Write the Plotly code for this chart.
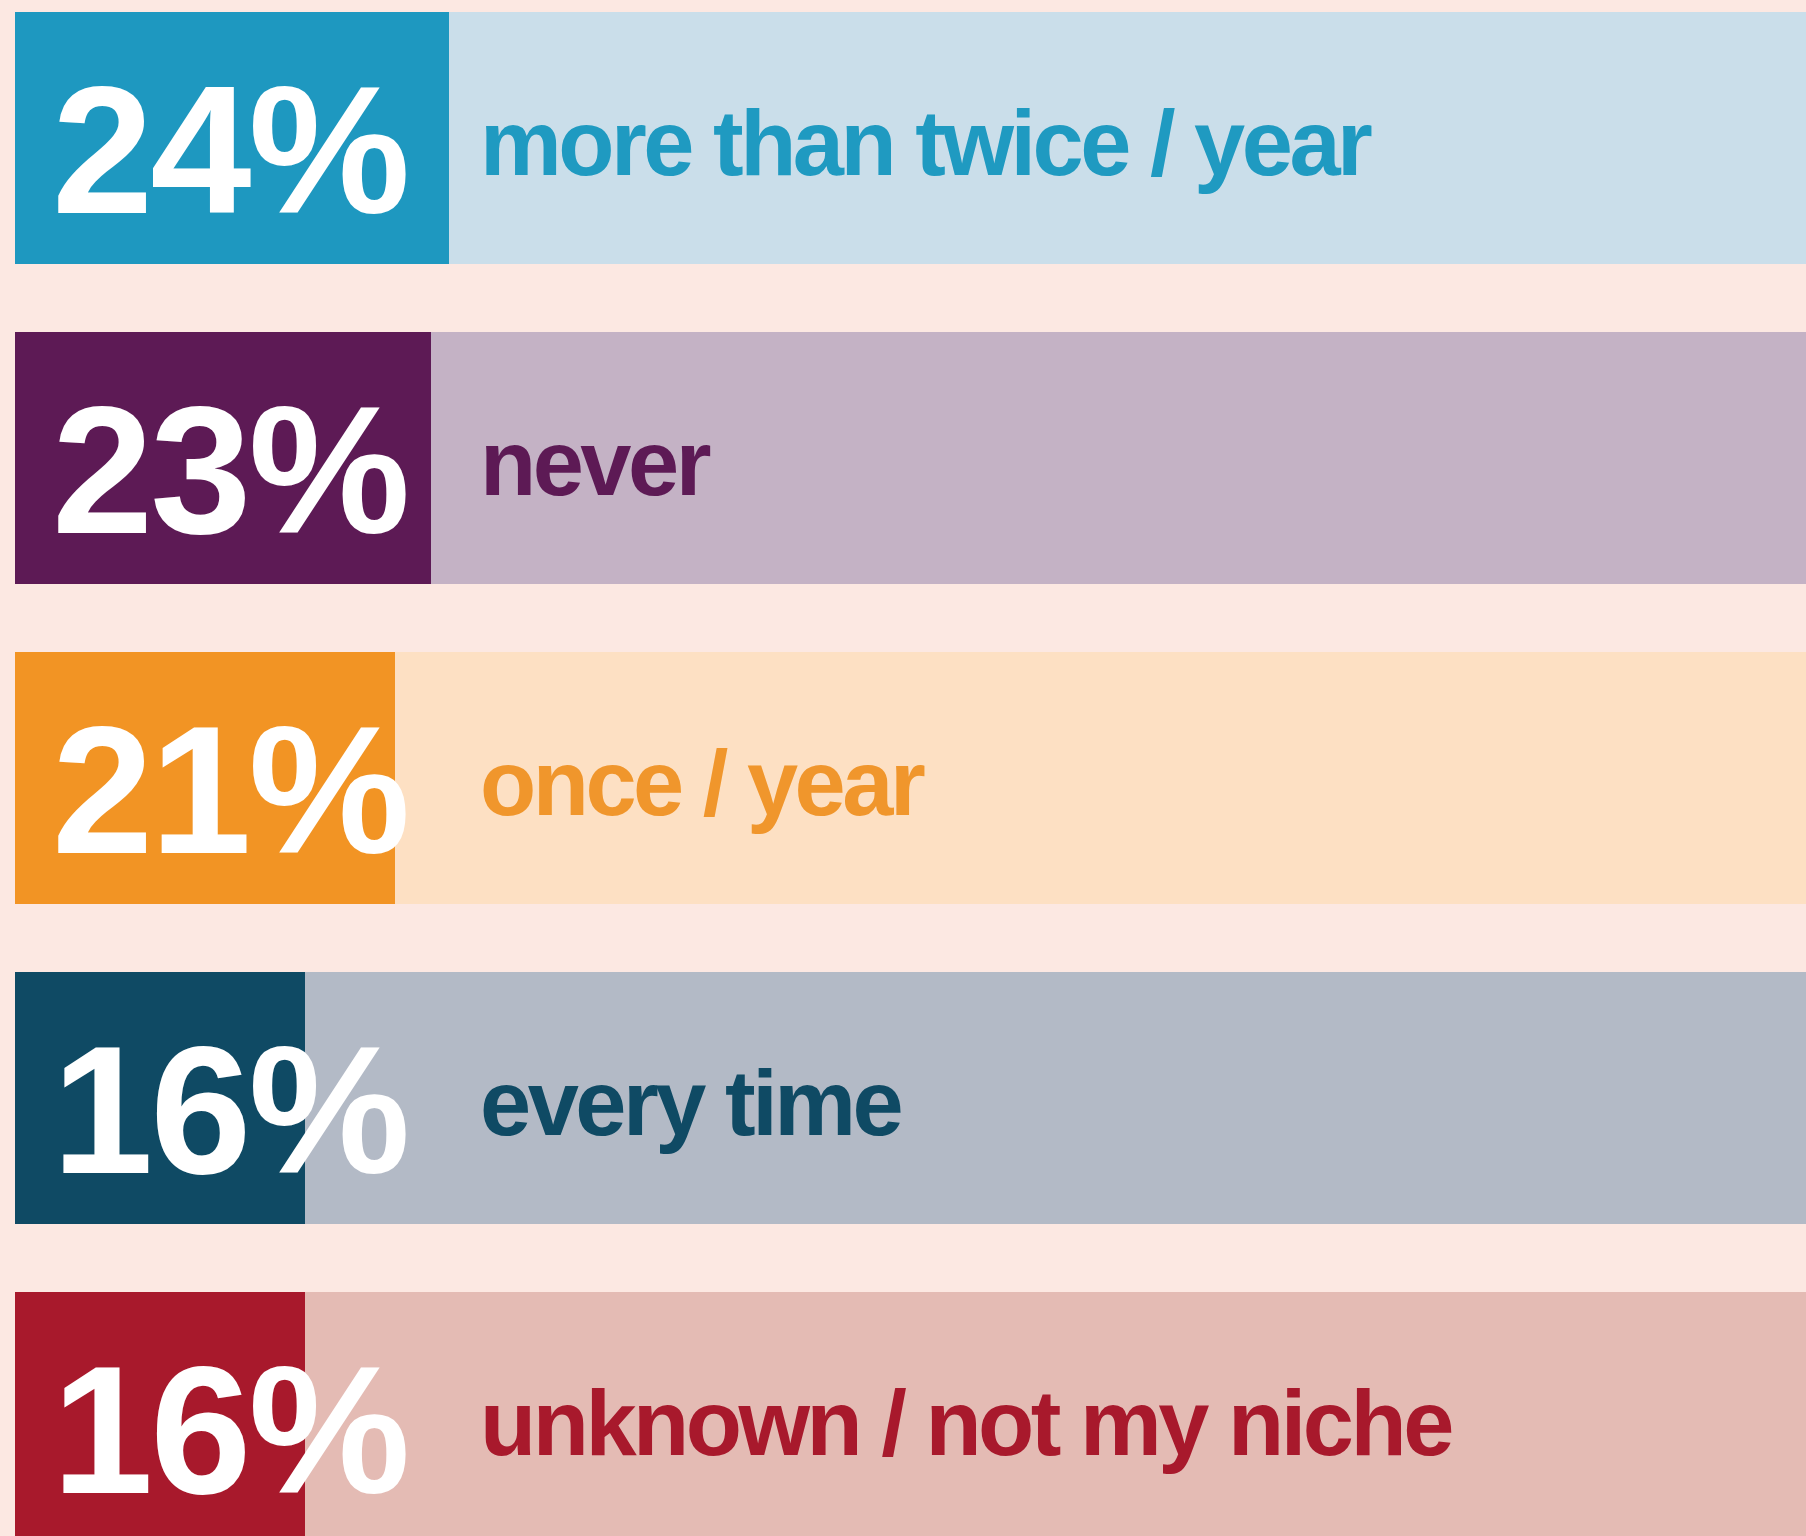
import plotly.graph_objects as go

# How often respondents do it
labels = ["more than twice / year", "never", "once / year", "every time", "unknown / not my niche"]
values = [24, 23, 21, 16, 16]
track_total = 100

dark_colors = ["#1e98c0", "#5d1a55", "#f29424", "#0f4a64", "#a8192c"]
light_colors = ["#cadeea", "#c4b2c5", "#fde0c3", "#b3bac6", "#e4bbb4"]
label_colors = ["#1f9ac1", "#5d1a55", "#f0962c", "#0f4a64", "#a8192c"]

BG = "#fce8e2"
W, H = 1806, 1536
PX_PER_UNIT = 18.1
LEFT_PAD = 15
ROW_PITCH = 320
FIRST_ROW_CENTER = 138
FONT = "Liberation Sans, Arial, sans-serif"

fig = go.Figure()

# full-width pale track behind each bar
fig.add_trace(go.Bar(
    y=labels, x=[track_total] * len(labels), orientation="h",
    marker=dict(color=light_colors, line=dict(width=0)),
    width=0.79, hoverinfo="skip", showlegend=False,
))

# solid bar for the share
fig.add_trace(go.Bar(
    y=labels, x=values, orientation="h",
    marker=dict(color=dark_colors, line=dict(width=0)),
    width=0.79, showlegend=False,
))


def tight(s, spacing):
    return f'<span style="letter-spacing:{spacing}px">{s}</span>'


for lab, v, col in zip(labels, values, label_colors):
    fig.add_annotation(
        x=0, y=lab, xref="x", yref="y",
        text=tight(f"{v}%", -3), showarrow=False,
        xanchor="left", yanchor="middle", xshift=35, yshift=-12,
        font=dict(family=FONT, size=182, color="white", weight="bold"),
    )
    fig.add_annotation(
        x=0, y=lab, xref="x", yref="y",
        text=tight(lab, -3.5), showarrow=False,
        xanchor="left", yanchor="middle", xshift=463, yshift=-5,
        font=dict(family=FONT, size=92, color=col, weight="bold"),
    )

x_lo = -LEFT_PAD / PX_PER_UNIT
x_hi = (W - LEFT_PAD) / PX_PER_UNIT
y_top = -FIRST_ROW_CENTER / ROW_PITCH
y_bottom = (H - FIRST_ROW_CENTER) / ROW_PITCH

fig.update_layout(
    width=W, height=H,
    margin=dict(l=0, r=0, t=0, b=0),
    paper_bgcolor=BG, plot_bgcolor=BG,
    barmode="overlay", bargap=0,
    xaxis=dict(range=[x_lo, x_hi], visible=False, fixedrange=True),
    yaxis=dict(range=[y_bottom, y_top], visible=False, fixedrange=True,
               categoryorder="array", categoryarray=labels),
)

fig.write_html("out.html", config={"displayModeBar": False})
